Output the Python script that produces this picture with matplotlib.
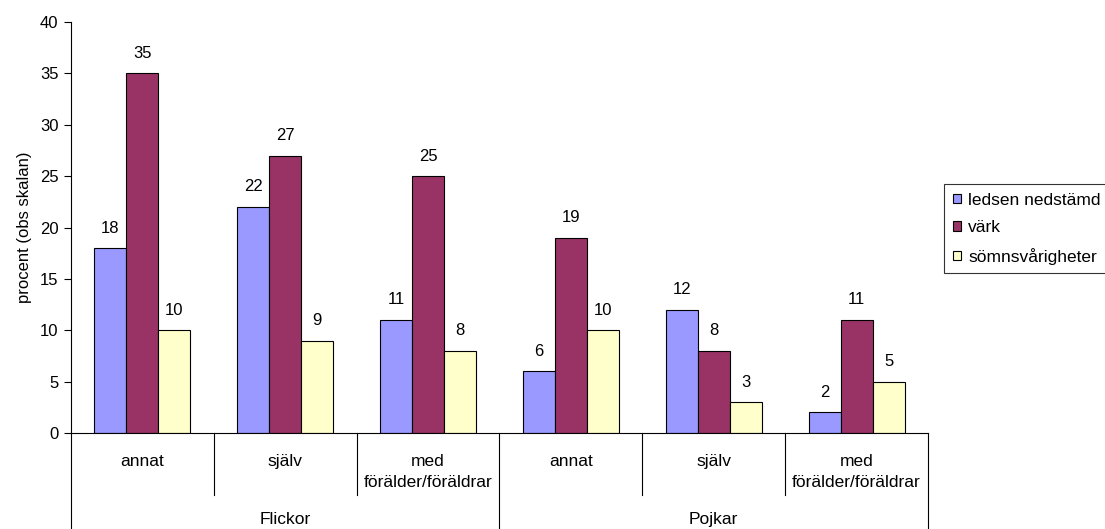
import matplotlib.pyplot as plt
import matplotlib.transforms as mtransforms
import numpy as np

plt.rcParams["font.family"] = ["Liberation Sans", "DejaVu Sans"]

# Daten
kategorier = ["annat", "själv", "med\nförälder/föräldrar",
              "annat", "själv", "med\nförälder/föräldrar"]
grupper = ["Flickor", "Pojkar"]
serier = ["ledsen nedstämd", "värk", "sömnsvårigheter"]
ledsen = [18, 22, 11, 6, 12, 2]
vark = [35, 27, 25, 19, 8, 11]
somn = [10, 9, 8, 10, 3, 5]
farger = ["#9999FF", "#993366", "#FFFFCC"]

fig = plt.figure(figsize=(11.05, 5.29), dpi=100)
ax = fig.add_axes([71 / 1105, 1 - 433 / 529, (928 - 71) / 1105, (433 - 22) / 529])

x = np.arange(len(kategorier))
w = 0.224
for i, (vals, namn, farg) in enumerate(zip([ledsen, vark, somn], serier, farger)):
    bars = ax.bar(x + (i - 1) * w, vals, w, color=farg, edgecolor="black",
                  linewidth=0.8, label=namn)
    ax.bar_label(bars, padding=9, fontsize=12)

ax.set_xlim(-0.5, len(kategorier) - 0.5)
ax.set_ylim(0, 40)
ax.set_yticks(range(0, 41, 5))
ax.tick_params(axis="y", direction="out", length=5, labelsize=12, pad=4)
ax.set_xticks([])
ax.set_ylabel("procent (obs skalan)", fontsize=12, labelpad=6)

for s in ["top", "right"]:
    ax.spines[s].set_visible(False)
ax.spines["left"].set_linewidth(0.8)
ax.spines["bottom"].set_linewidth(0.8)

# Zweistufige Kategorie-Achse
trans = mtransforms.blended_transform_factory(ax.transData, ax.transAxes)
for i, kat in enumerate(kategorier):
    ax.text(i, -0.05, kat, transform=trans, ha="center", va="top",
            fontsize=12.5, linespacing=1.5)
for i in range(1, len(kategorier)):
    if i % 3 == 0:
        continue
    ax.plot([i - 0.5, i - 0.5], [0, -0.152], transform=trans, color="black",
            lw=0.8, clip_on=False)
for g in range(len(grupper) + 1):
    ax.plot([g * 3 - 0.5, g * 3 - 0.5], [0, -0.24], transform=trans,
            color="black", lw=0.8, clip_on=False)
for g, namn in enumerate(grupper):
    ax.text(g * 3 + 1, -0.21, namn, transform=trans, ha="center",
            va="center", fontsize=12.5)

leg = ax.legend(loc="upper left", bbox_to_anchor=(944 / 1105, 1 - 184 / 529),
                bbox_transform=fig.transFigure, fontsize=12.5, frameon=True,
                fancybox=False, edgecolor="black", handlelength=0.5,
                handleheight=0.5, handletextpad=0.4, borderpad=0.5,
                labelspacing=0.72, borderaxespad=0)
leg.get_frame().set_linewidth(0.8)

plt.savefig("out.png", dpi=100)
